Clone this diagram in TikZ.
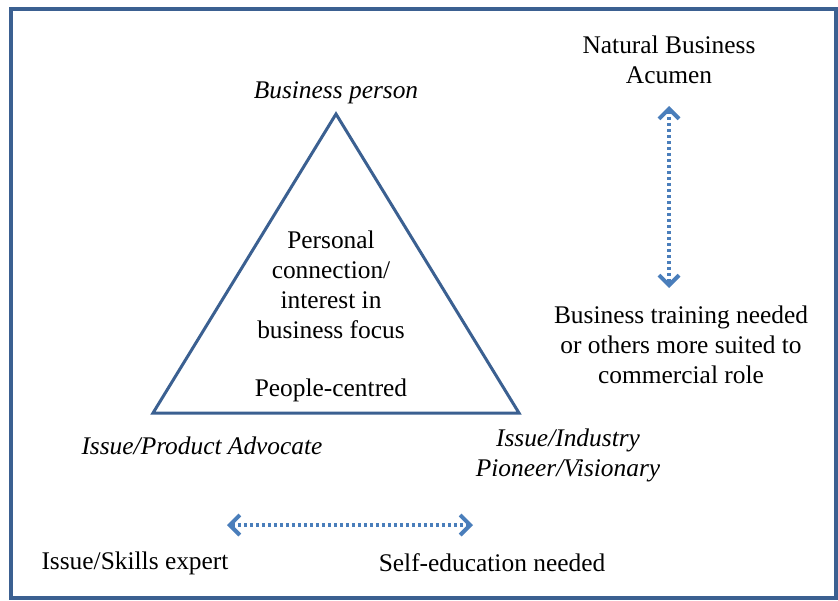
\documentclass[tikz,border=0pt]{standalone}
\usepackage{fontspec}
\setmainfont{Liberation Serif}
\usetikzlibrary{arrows.meta}
\definecolor{framecol}{RGB}{59,96,145}
\definecolor{arrowcol}{RGB}{74,126,187}
\begin{document}
\begin{tikzpicture}[x=0.5pt,y=-0.5pt,
    lbl/.style={inner sep=0pt,align=center,font=\fontsize{12.7}{15}\selectfont},
    ilbl/.style={lbl,font=\fontsize{12.7}{15}\selectfont\itshape},
    dotarrow/.style={arrowcol,line width=1.6pt,dash pattern=on 1.4pt off 1.6pt,
      {Straight Barb[length=5pt,width=10pt,line width=2pt]}-{Straight Barb[length=5pt,width=10pt,line width=2pt]}}]
      \useasboundingbox (0,0) rectangle (838,600);
      \draw [framecol,line width=2pt] (11,9) rectangle (836,598);
      % triangle
      \coordinate (top) at (336,114);
      \coordinate (left) at (153,413);
      \coordinate (right) at (519,413);
      \draw [framecol,line width=1.5pt,line join=miter] (top) -- (left) -- (right) -- cycle;
      \node [ilbl] (bperson) at (336,93) {Business person};
      \node [lbl] (focus) at (331,285) {Personal\\connection/\\interest in\\business focus};
      \node [lbl] (people) at (331,390) {People-centred};
      \node [ilbl] (advocate) at (202,446) {Issue/Product Advocate};
      \node [ilbl] (pioneer) at (568,455) {Issue/Industry\\Pioneer/Visionary};
      % right side
      \node [lbl] (acumen) at (669,60) {Natural Business\\Acumen};
      \node [lbl] (training) at (681,345) {Business training needed\\or others more suited to\\commercial role};
      \coordinate (vtop) at (669,106);
      \coordinate (vbot) at (669,288);
      \draw [dotarrow] (vtop) -- (vbot);
      % bottom
      \node [lbl] (skills) at (135,563) {Issue/Skills expert};
      \node [lbl] (selfedu) at (492,563) {Self-education needed};
      \coordinate (hleft) at (227,525);
      \coordinate (hright) at (473,525);
      \draw [dotarrow] (hleft) -- (hright);
\end{tikzpicture}
\end{document}
